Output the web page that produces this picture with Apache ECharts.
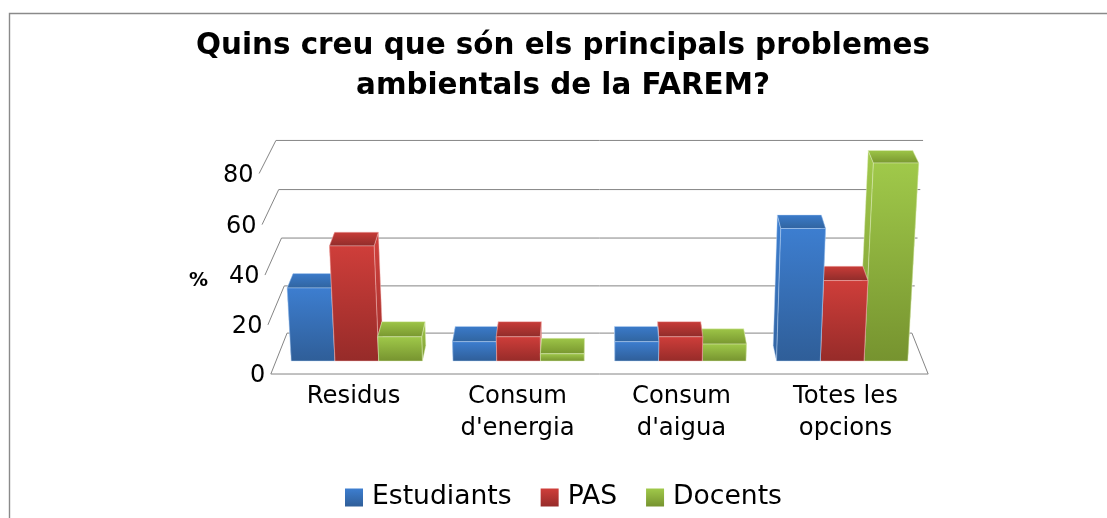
<!DOCTYPE html>
<html>
<head>
<meta charset="utf-8">
<title>Problemes ambientals</title>
<style>
  html, body { margin: 0; padding: 0; background: #fff; }
  #chart { width: 1107px; height: 518px; }
</style>
<script src="https://cdn.jsdelivr.net/npm/echarts@6/dist/echarts.min.js"></script>
</head>
<body>
<div id="chart"></div>
<script>
const categories = ['Residus', "Consum\nd'energia", "Consum\nd'aigua", 'Totes les\nopcions']
const estudiants = [30, 8, 8, 54]
const pas = [47, 10, 10, 33]
const docents = [10, 3, 7, 80]
const valueTicks = [0, 20, 40, 60, 80]

const FONT = '"DejaVu Sans", sans-serif'
const GRID = { left: 276, right: 184, top: 163, height: 198 }
const CENTER_X = 599.5
const BAR_RATIO = 43.8 / 162
const FLOOR_FRONT = -0.84
const WALL_BACK = 1.8
const GRID_COLOR = '#858585'

const chart = echarts.init(document.getElementById('chart'))

// fake 3d: takes a pixel from the flat grid and pushes it by height and depth
function project(x, y, depth) {
  const base = GRID.top + GRID.height
  const h = base - y
  const bent = h * (1 - 0.026 * (1 - h / GRID.height))
  const sx = CENTER_X + (x - CENTER_X) * (1 + 0.00018 * h) * (1 - 0.019 * depth)
  const sy = base - bent - depth * (15.5 - 0.015 * h)
  return [sx, sy]
}

function grad(top, bottom) {
  return new echarts.graphic.LinearGradient(0, 0, 0, 1, [
    { offset: 0, color: top },
    { offset: 1, color: bottom }
  ])
}

function barItem(seriesIndex, palette) {
  return function (params, api) {
    const cat = api.value(0)
    const top = api.coord([cat, api.value(1)])
    const bottom = api.coord([cat, 0])
    const w = api.size([1, 0])[0] * BAR_RATIO
    const x0 = top[0] + (seriesIndex - 1.5) * w
    const x1 = x0 + w
    // left groups stack left to right, right groups the other way
    const z2 = cat < 2 ? seriesIndex * 10 + cat : (3 - seriesIndex) * 10 + cat

    const face = (pts, fill, order) => ({
      type: 'polygon',
      z2: z2 + order,
      shape: { points: pts },
      style: { fill: fill, stroke: palette.edge, lineWidth: 0.8 }
    })

    const fbl = project(x0, bottom[1], 0)
    const fbr = project(x1, bottom[1], 0)
    const ftl = project(x0, top[1], 0)
    const ftr = project(x1, top[1], 0)
    const bbl = project(x0, bottom[1], 1)
    const bbr = project(x1, bottom[1], 1)
    const btl = project(x0, top[1], 1)
    const btr = project(x1, top[1], 1)

    return {
      type: 'group',
      children: [
        face([fbl, ftl, btl, bbl], palette.side, 0),
        face([fbr, ftr, btr, bbr], palette.side, 0),
        face([ftl, ftr, btr, btl], palette.roof, 1),
        face([fbl, fbr, ftr, ftl], palette.front, 2)
      ]
    }
  }
}

function frameItem(params, api) {
  const v = api.value(0)
  const xMin = api.coord([0, 0])[0] - api.size([1, 0])[0] / 2
  const xMax = xMin + api.size([1, 0])[0] * categories.length
  const y = api.coord([0, v])[1]
  const frontL = project(xMin, y, FLOOR_FRONT)
  const backL = project(xMin, y, WALL_BACK)
  const backR = project(xMax, y, WALL_BACK)
  const pts = [frontL, backL, backR]
  if (v === 0) {
    pts.push(project(xMax, y, FLOOR_FRONT), frontL)
  }
  return {
    type: 'group',
    children: [
      {
        type: 'polyline',
        shape: { points: pts },
        style: { fill: null, stroke: GRID_COLOR, lineWidth: 1 }
      },
      {
        type: 'text',
        style: {
          x: frontL[0] - 5.5,
          y: frontL[1] + 2,
          text: String(v),
          font: '24px ' + FONT,
          fill: '#000',
          align: 'right',
          verticalAlign: 'middle'
        }
      }
    ]
  }
}

function catLabelItem(params, api) {
  const p = api.coord([api.value(0), 0])
  return {
    type: 'text',
    style: {
      x: p[0] + (api.value(0) - 1.5) * 2.2,
      y: 381,
      text: categories[api.value(0)],
      font: '24.3px ' + FONT,
      lineHeight: 32,
      fill: '#000',
      align: 'center',
      verticalAlign: 'top'
    }
  }
}

function barSeries(name, values, index, palette) {
  return {
    name: name,
    type: 'custom',
    coordinateSystem: 'cartesian2d',
    z: 3,
    itemStyle: { color: palette.front },
    renderItem: barItem(index, palette),
    encode: { x: 0, y: 1 },
    data: values.map((v, i) => [i, v])
  }
}

const palettes = {
  blue: {
    front: grad('#3d7ed0', '#2f5e98'),
    roof: grad('#3b7bcb', '#30649f'),
    side: grad('#3e80d2', '#3263a0'),
    edge: 'rgba(190,215,245,0.55)'
  },
  red: {
    front: grad('#cf3e3a', '#962b29'),
    roof: grad('#c93c38', '#8f2c2a'),
    side: grad('#d2423e', '#a02f2c'),
    edge: 'rgba(245,190,188,0.55)'
  },
  green: {
    front: grad('#a0c94a', '#76932f'),
    roof: grad('#9ec648', '#78962f'),
    side: grad('#a2ca4c', '#7b9932'),
    edge: 'rgba(225,240,190,0.55)'
  }
}

chart.setOption({
  animation: false,
  backgroundColor: '#fff',
  title: {
    text: 'Quins creu que són els principals problemes\nambientals de la FAREM?',
    left: 558,
    top: 21,
    textAlign: 'center',
    textStyle: { fontFamily: FONT, fontSize: 29.4, fontWeight: 'bold', color: '#000', lineHeight: 40 }
  },
  legend: {
    left: 345,
    top: 484,
    padding: 0,
    icon: 'rect',
    itemWidth: 18,
    itemHeight: 18,
    itemGap: 29,
    data: ['Estudiants', 'PAS', 'Docents'],
    textStyle: { fontFamily: FONT, fontSize: 26.6, color: '#000', padding: [0, 0, 0, 4] }
  },
  grid: { left: GRID.left, right: GRID.right, top: GRID.top, height: GRID.height },
  xAxis: { type: 'category', data: categories, show: false },
  yAxis: { type: 'value', min: 0, max: 80, interval: 20, show: false },
  graphic: [
    {
      type: 'text',
      left: 189,
      top: 272,
      style: { text: '%', font: 'bold 19px ' + FONT, fill: '#000' }
    },
    {
      type: 'polyline',
      silent: true,
      shape: { points: [[9.5, 518], [9.5, 13.5], [1107, 13.5]] },
      style: { fill: null, stroke: '#8a8a8a', lineWidth: 1.4 }
    }
  ],
  series: [
    {
      type: 'custom',
      z: 1,
      silent: true,
      renderItem: frameItem,
      data: valueTicks.map(v => [v])
    },
    {
      type: 'custom',
      z: 1,
      silent: true,
      renderItem: catLabelItem,
      data: categories.map((c, i) => [i])
    },
    barSeries('Estudiants', estudiants, 0, palettes.blue),
    barSeries('PAS', pas, 1, palettes.red),
    barSeries('Docents', docents, 2, palettes.green)
  ]
})
</script>
</body>
</html>
